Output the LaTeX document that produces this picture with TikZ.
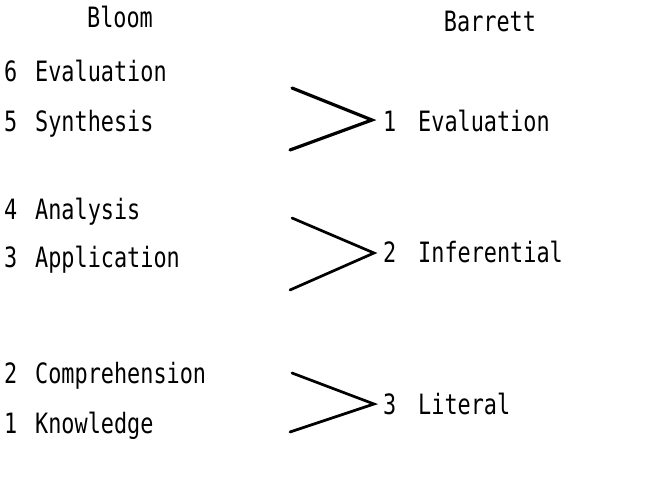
\documentclass[tikz,border=0pt]{standalone}
\usepackage{fontspec}
\usepackage{tikz}
\newfontfamily\typer[FakeStretch=0.78]{DejaVu Sans Mono}
\tikzset{
  lbl/.style={anchor=base west,inner sep=0pt,font=\typer\fontsize{28}{32}\selectfont},
  head/.style={anchor=base,inner sep=0pt,font=\typer\fontsize{28}{32}\selectfont},
  merge/.style={line width=2.7pt,line cap=round}
}
\begin{document}
\begin{tikzpicture}[x=1pt,y=-1pt]
  \useasboundingbox[fill=white] (0,0) rectangle (645,486);
  % column heads
  \node[head] (bloom) at (120,28) {Bloom};
  \node[head] (barrett) at (490,32) {Barrett};
  % Bloom levels
  \node[lbl] (n6) at (4,82) {6};
  \node[lbl] (l6) at (35,82) {Evaluation};
  \node[lbl] (n5) at (4,132) {5};
  \node[lbl] (l5) at (35,132) {Synthesis};
  \node[lbl] (n4) at (4,220) {4};
  \node[lbl] (l4) at (35,220) {Analysis};
  \node[lbl] (n3) at (4,268) {3};
  \node[lbl] (l3) at (35,268) {Application};
  \node[lbl] (n2) at (4,383) {2};
  \node[lbl] (l2) at (35,383) {Comprehension};
  \node[lbl] (n1) at (4,433) {1};
  \node[lbl] (l1) at (35,433) {Knowledge};
  % Barrett levels
  \node[lbl] (b1) at (383,132) {1};
  \node[lbl] (e1) at (418,132) {Evaluation};
  \node[lbl] (b2) at (383,263) {2};
  \node[lbl] (e2) at (418,263) {Inferential};
  \node[lbl] (b3) at (383,414) {3};
  \node[lbl] (e3) at (418,414) {Literal};
  % where the lines start
  \coordinate (s6) at (292,88);
  \coordinate (s5) at (290,150);
  \coordinate (s4) at (292,218);
  \coordinate (s3) at (290,290);
  \coordinate (s2) at (292,373);
  \coordinate (s1) at (290,432);
  \coordinate (m1) at (372,120);
  \coordinate (m2) at (374,253);
  \coordinate (m3) at (374,404);
  \draw[merge,line width=3.2pt] (s6) -- (m1) -- (s5);
  \draw[merge] (s4) -- (m2) -- (s3);
  \draw[merge] (s2) -- (m3) -- (s1);
\end{tikzpicture}
\end{document}
